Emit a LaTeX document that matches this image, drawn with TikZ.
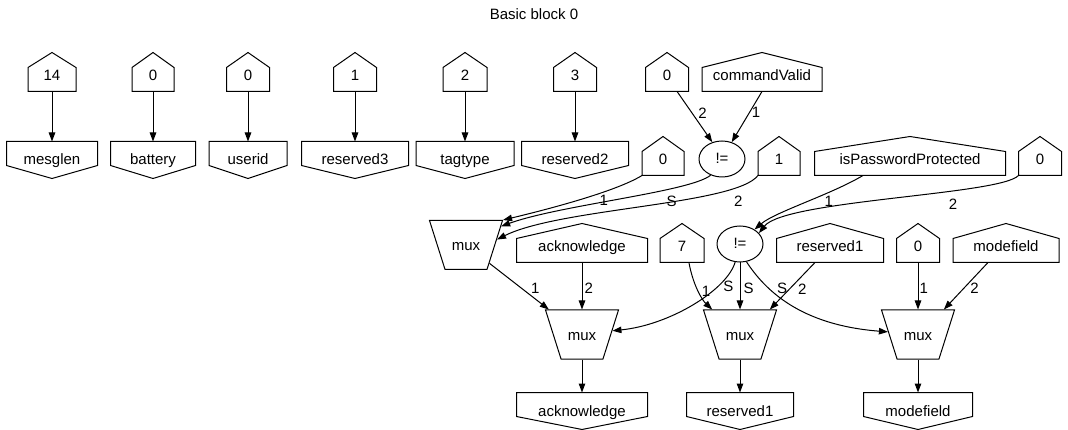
\documentclass[tikz,border=0pt]{standalone}
\usepackage{fontspec}
\setmainfont{Liberation Sans}
\usetikzlibrary{shapes.geometric,arrows.meta}
\tikzset{
  txt/.style={font=\fontsize{15}{17}\selectfont, inner sep=0pt},
  house/.style={txt, minimum width=#1, minimum height=23pt, text height=9.5pt, text depth=6.5pt,
    append after command={\pgfextra{\draw (\tikzlastnode.south west) -- (\tikzlastnode.north west)
      -- ([yshift=15pt]\tikzlastnode.north) -- (\tikzlastnode.north east)
      -- (\tikzlastnode.south east) -- cycle;}}},
  outbox/.style={txt, minimum width=#1, minimum height=36pt, text height=13pt, text depth=3pt,
    append after command={\pgfextra{\draw (\tikzlastnode.north west) -- ([yshift=13pt]\tikzlastnode.south west)
      -- (\tikzlastnode.south) -- ([yshift=13pt]\tikzlastnode.south east)
      -- (\tikzlastnode.north east) -- cycle;}}},
  mux/.style={txt, draw, trapezium, shape border rotate=180, trapezium angle=72.4,
    trapezium stretches body, inner xsep=0pt, inner ysep=17pt, minimum width=73pt,
    text height=13pt, text depth=2pt},
  cmp/.style={txt, draw, ellipse, minimum width=46pt, minimum height=36pt, text height=13pt, text depth=3pt},
  lbl/.style={font=\fontsize{15}{17}\selectfont, inner sep=1pt},
}
\begin{document}
\begin{tikzpicture}[x=1pt,y=1pt,line width=1pt,>={Triangle[length=9pt,width=6.5pt]}]
 \useasboundingbox (0,0) rectangle (1068,-430);
 \node[txt] (title) at (534,-14) {Basic block 0};
 % constants and their outputs
 \node[house=47pt] (k14) at (52,-79.5) {14};
 \node[house=41pt] (kbat) at (153,-79.5) {0};
 \node[house=42pt] (kuid) at (248,-79.5) {0};
 \node[house=42pt] (kres3) at (355,-79.5) {1};
 \node[house=43pt] (ktag) at (465,-79.5) {2};
 \node[house=42pt] (kres2) at (575,-79.5) {3};
 \node[house=42pt] (kcmp) at (667,-79.5) {0};
 \node[house=119pt] (cmdv) at (762,-79.5) {commandValid};
 \node[outbox=90pt] (omesg) at (52,-160) {mesglen};
 \node[outbox=84pt] (obat) at (153,-160) {battery};
 \node[outbox=77pt] (ouid) at (248,-160) {userid};
 \node[outbox=106pt] (ores3) at (355,-160) {reserved3};
 \node[outbox=97pt] (otag) at (465,-160) {tagtype};
 \node[outbox=106pt] (ores2) at (575,-160) {reserved2};
 \foreach \a/\b in {k14/omesg,kbat/obat,kuid/ouid,kres3/ores3,ktag/otag,kres2/ores2}
   \draw[->] (\a.south) -- (\b.north);
 % second rank
 \node[cmp] (ne1) at (722,-159) {!=};
 \node[house=41pt] (ksel0) at (663,-163.5) {0};
 \node[house=41pt] (ksel1) at (779,-163.5) {1};
 \node[house=190pt] (ipp) at (910,-163.5) {isPasswordProtected};
 \node[house=42pt] (kpw) at (1040,-163.5) {0};
 \draw[->] (kcmp.-50) -- (ne1.120) node[lbl,pos=.42,right=5pt] {2};
 \draw[->] (cmdv.south) -- (ne1.60) node[lbl,pos=.42,right=1pt] {1};
 % third rank
 \node[mux] (mx1) at (466,-245) {mux};
 \node[house=130pt] (iack) at (582,-250.5) {acknowledge};
 \node[house=43pt] (k7) at (682,-250.5) {7};
 \node[cmp] (ne2) at (740,-244) {!=};
 \node[house=106pt] (ires1) at (830,-250.5) {reserved1};
 \node[house=42pt] (kmode) at (918,-250.5) {0};
 \node[house=105pt] (imode) at (1006,-250.5) {modefield};
 \draw[->] (ksel0.south west) .. controls (615,-192) and (545,-210) .. (mx1.34)
   node[lbl,pos=.33,below=2pt] {1};
 \draw[->] (ne1.-125) .. controls (690,-192) and (560,-205) .. (mx1.28)
   node[lbl,pos=.28,below=6pt] {S};
 \draw[->] (ksel1.south west) .. controls (735,-205) and (560,-208) .. (mx1.10)
   node[lbl,pos=.15,below=7pt] {2};
 \draw[->] ([xshift=-47pt]ipp.south) .. controls (830,-195) and (775,-212) .. (ne2.45)
   node[lbl,pos=.3,below=2pt] {1};
 \draw[->] (kpw.south west) .. controls (1000,-195) and (785,-200) .. (ne2.30)
   node[lbl,pos=.32,below=6pt] {2};
 % muxes and outputs
 \node[mux] (mx2) at (582,-334.5) {mux};
 \node[mux] (mx3) at (740,-334.5) {mux};
 \node[mux] (mx4) at (918,-334.5) {mux};
 \node[outbox=130pt] (oack) at (582,-411) {acknowledge};
 \node[outbox=106pt] (ores1) at (740,-411) {reserved1};
 \node[outbox=108pt] (omode) at (918,-411) {modefield};
 \draw[->] (mx1.-38) -- (mx2.143) node[lbl,pos=.54,right=8pt] {1};
 \draw[->] (iack.south) -- (mx2.90) node[lbl,pos=.55,right=1pt] {2};
 \draw[->] (ne2.-105) .. controls (727,-290) and (670,-325) .. (mx2.7)
   node[lbl,pos=.28,right=4pt] {S};
 \draw[->] (k7.-60) .. controls (693,-285) and (702,-300) .. (mx3.138)
   node[lbl,pos=.5,right=2pt] {1};
 \draw[->] (ne2.-90) -- (mx3.90) node[lbl,pos=.55,right=2pt] {S};
 \draw[->] ([xshift=-15pt]ires1.south) -- (mx3.40) node[lbl,pos=.56,right=7pt] {2};
 \draw[->] (ne2.-70) .. controls (765,-290) and (800,-325) .. (mx4.175)
   node[lbl,pos=.3,right=7pt] {S};
 \draw[->] (kmode.south) -- (mx4.90) node[lbl,pos=.55,right=0pt] {1};
 \draw[->] ([xshift=-18pt]imode.south) -- (mx4.44) node[lbl,pos=.55,right=5pt] {2};
 \foreach \a/\b in {mx2/oack,mx3/ores1,mx4/omode}
   \draw[->] (\a.-90) -- (\b.north);
\end{tikzpicture}
\end{document}
